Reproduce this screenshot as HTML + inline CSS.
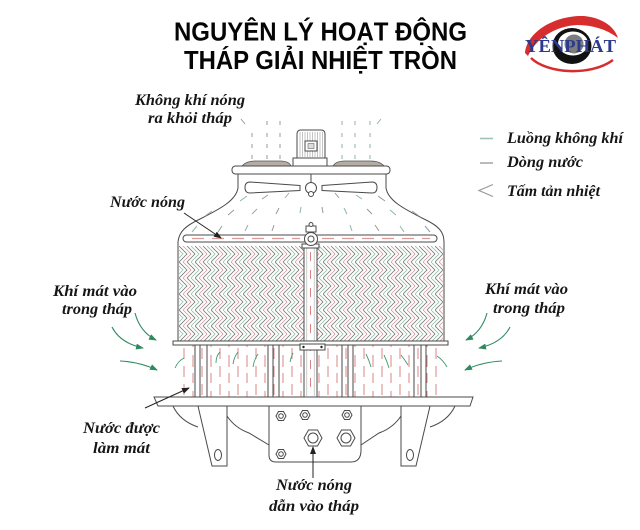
<!DOCTYPE html>
<html><head><meta charset="utf-8">
<style>
html,body{margin:0;padding:0;background:#fff;}
svg{display:block;}
.t{font-family:"Liberation Serif","DejaVu Serif",serif;font-style:italic;font-weight:bold;font-size:16px;fill:#161616;}
.h{font-family:"Liberation Sans","DejaVu Sans",sans-serif;font-weight:bold;font-size:26px;fill:#050505;}
</style></head><body>
<svg width="640" height="530" viewBox="0 0 640 530" xmlns="http://www.w3.org/2000/svg">
<defs>
 <pattern id="fillp" patternUnits="userSpaceOnUse" x="179" y="246" width="16" height="16">
  <g fill="none" stroke-width="0.85">
   <path stroke="#7a7a7a" d="M-8,0L0,8L-8,16M0,0L8,8L0,16M8,0L16,8L8,16"/>
   <path stroke="#d79c9c" d="M4,0L12,8L4,16"/>
   <path stroke="#93c4ab" d="M-4,0L4,8L-4,16M12,0L20,8L12,16"/>
  </g>
 </pattern>
 <pattern id="rd" patternUnits="userSpaceOnUse" x="180" y="345" width="18" height="36">
  <path stroke="#d98585" stroke-width="1" fill="none" d="M4,3V14M4,21V32M13,10V22M13,28V38M13,-8V2"/>
 </pattern>
 <marker id="ga" markerWidth="8" markerHeight="6" refX="7" refY="3" orient="auto" markerUnits="userSpaceOnUse"><path d="M0,0L8,3L0,6Z" fill="#2f8a5f"/></marker>
 <marker id="ba" markerWidth="8" markerHeight="6" refX="7" refY="3" orient="auto" markerUnits="userSpaceOnUse"><path d="M0,0L8,3L0,6Z" fill="#222"/></marker>
</defs>

<!-- Title -->
<text class="h" x="174" y="40.5" textLength="293" lengthAdjust="spacingAndGlyphs">NGUYÊN LÝ HOẠT ĐỘNG</text>
<text class="h" x="184" y="69" textLength="273" lengthAdjust="spacingAndGlyphs">THÁP GIẢI NHIỆT TRÒN</text>

<!-- Logo -->
<path d="M525,53 C527,31 556,15 584,16 C604,18 615,28 618,38 C606,29 592,25 577,25 C556,26 536,38 528,56 Z" fill="#d62e2e"/>
<path d="M531,58 C546,73 590,77 613,60" fill="none" stroke="#d62e2e" stroke-width="2.5"/>
<ellipse cx="572" cy="46" rx="19.5" ry="18" fill="#111"/>
<ellipse cx="573" cy="43.5" rx="15" ry="12" fill="#fff"/>
<circle cx="574" cy="44" r="9.5" fill="#7d7d7d"/>
<text x="525" y="52" font-family="Liberation Serif, serif" font-weight="bold" font-size="18" fill="#2b3a8c" textLength="91" lengthAdjust="spacingAndGlyphs">YÊNPHÁT</text>

<!-- top air dashes -->
<g fill="none" stroke-width="1">
 <path stroke="#9a9a9a" d="M241,119L245,124M267,121V125M280,121V125M252,133V137M267,133V137M280,133V137M252,144V148M267,144V148M280,144V148M252,155V159M267,155V159M280,155V159"/>
 <path stroke="#8fb5a3" d="M381,119L377,124M342,121V125M355,121V125M370,121V125M342,133V137M355,133V137M370,133V137M342,144V148M355,144V148M370,144V148M342,155V159M355,155V159M370,155V159"/>
</g>

<!-- Motor -->
<g stroke="#4a4a4a" stroke-width="1" fill="#fff">
 <path d="M297,158V134Q297,130 301,130H321Q325,130 325,134V158Z"/>
</g>
<path stroke="#9c9c9c" stroke-width="0.6" d="M300,132V157M302.5,132V157M305,132V157M307.5,132V157M310,132V157M312.5,132V157M315,132V157M317.5,132V157M320,132V157M322.5,132V157"/>
<rect x="305" y="141" width="12" height="10" fill="#fff" stroke="#4a4a4a"/>
<rect x="308" y="143.5" width="6" height="5" fill="#ddd" stroke="#666" stroke-width="0.6"/>
<rect x="293" y="158" width="34" height="8" fill="#fff" stroke="#4a4a4a"/>
<!-- dishes -->
<path d="M242,166 Q246,161 256,161 H280 Q289,161 291,166 Z" fill="#b5ada3" stroke="#555" stroke-width="0.8"/>
<path d="M333,166 Q336,161 345,161 H370 Q380,161 384,166 Z" fill="#b5ada3" stroke="#555" stroke-width="0.8"/>
<!-- cap plate -->
<rect x="232" y="166" width="158" height="8" rx="3.5" fill="#fff" stroke="#4a4a4a"/>

<!-- shroud -->
<g fill="none" stroke="#4a4a4a" stroke-width="1">
 <path d="M238,174 V188 C236,200 222,208 200,219 C185,226 179,232 178,242 V341"/>
 <path d="M386,174 V188 C388,200 402,208 424,219 C439,226 444,232 444,242 V341"/>
 <path d="M311,174 V183"/>
</g>
<!-- fan -->
<path d="M300,185.5 L250,182 Q245,182 245,187.5 Q245,193 250,193 L300,190.5 Z" fill="#fff" stroke="#4a4a4a"/>
<path d="M322,185.5 L372,182 Q377,182 377,187.5 Q377,193 372,193 L322,190.5 Z" fill="#fff" stroke="#4a4a4a"/>
<circle cx="311" cy="188" r="5.5" fill="#fff" stroke="#4a4a4a"/>
<circle cx="311" cy="194" r="2.5" fill="#fff" stroke="#4a4a4a"/>

<!-- shroud air dashes -->
<g fill="none" stroke-width="1">
 <path stroke="#8fb5a3" d="M240,201L247,196M285,198L289,193M356,195L362,199M205,216L212,211M252,214L257,209M300,213L301,207M344,208L347,214M390,210L396,215M192,232L197,226M245,231L248,225M350,225L352,231M400,226L404,232"/>
 <path stroke="#9a9a9a" d="M262,199L268,195M335,193L339,198M378,196L385,201M228,215L234,210M276,214L279,208M322,207L323,213M367,209L372,214M412,211L419,216M218,232L222,226M272,231L274,225M375,225L379,231M425,226L430,232"/>
</g>

<!-- fill -->
<rect x="179" y="246" width="264" height="95" fill="url(#fillp)"/>

<!-- lower section -->
<rect x="179" y="345" width="265" height="52" fill="url(#rd)"/>
<g stroke="#4a4a4a" stroke-width="1" fill="#fff">
 <rect x="195" y="345" width="5" height="52"/>
 <rect x="268" y="345" width="5" height="52"/>
 <rect x="348" y="345" width="5" height="52"/>
 <rect x="421" y="345" width="5" height="52"/>
 <path d="M207,345V397M279,345V397M342,345V397M414,345V397" fill="none"/>
</g>
<g fill="none" stroke="#3f9a70" stroke-width="0.9">
 <path d="M175,368 Q178,361 184,358"/>
 <path d="M216,363 Q216,356 220,352"/>
 <path d="M233,364 Q234,357 238,352"/>
 <path d="M253,367 Q254,360 258,354"/>
 <path d="M290,362 Q291,357 293,353"/>
 <path d="M366,354 Q369,360 371,367"/>
 <path d="M384,355 Q387,361 389,368"/>
 <path d="M401,355 Q405,360 408,365"/>
 <path d="M437,356 Q443,360 447,367"/>
</g>

<!-- central pipe -->
<rect x="304" y="244" width="13" height="153" fill="#fff" stroke="#4a4a4a"/>
<path d="M306.8,246V396M314.2,246V396" stroke="#aaa" stroke-width="0.6"/>
<path d="M310.5,252V395" stroke="#d98585" stroke-width="1" stroke-dasharray="9 9"/>
<rect x="302" y="244" width="17" height="4" fill="#fff" stroke="#4a4a4a"/>

<!-- distribution pipe -->
<rect x="183" y="235" width="254" height="7" rx="3.5" fill="#fff" stroke="#4a4a4a"/>
<path d="M192,238.5H300M322,238.5H430" stroke="#d99a9a" stroke-width="1.2" stroke-dasharray="12 8"/>
<circle cx="311" cy="239" r="6.5" fill="#fff" stroke="#4a4a4a"/>
<circle cx="311" cy="239" r="3" fill="#fff" stroke="#4a4a4a"/>
<rect x="306" y="226" width="10" height="6" fill="#fff" stroke="#4a4a4a"/>
<circle cx="311" cy="224.5" r="2" fill="#fff" stroke="#4a4a4a"/>

<!-- plate under fill -->
<rect x="173" y="341" width="275" height="4" fill="#fff" stroke="#4a4a4a"/>
<rect x="300" y="344" width="25" height="6" fill="#fff" stroke="#4a4a4a"/>
<circle cx="303.5" cy="347" r="1.2" fill="#222"/>
<circle cx="321.5" cy="347" r="1.2" fill="#222"/>

<!-- base -->
<g fill="none" stroke="#4a4a4a" stroke-width="1">
 <path d="M173,406 Q180,421 198,427"/>
 <path d="M227,416 Q235,428 249,433 L269,445"/>
 <path d="M455,406 Q448,421 430,427"/>
 <path d="M401,416 Q393,428 379,433 L361,445"/>
 <path d="M198,406 L212,466 H227 V406"/>
 <path d="M430,406 L416,466 H401 V406"/>
 <ellipse cx="218" cy="455" rx="3.5" ry="5.5"/>
 <ellipse cx="410" cy="455" rx="3.5" ry="5.5"/>
 <path d="M269,406 V455 Q269,462 276,462 H351 Q361,462 361,450 V406"/>
</g>
<path d="M154,397 H473 L470,406 H158 Z" fill="#fff" stroke="#4a4a4a"/>

<!-- nuts -->
<g fill="#fff" stroke="#4a4a4a" stroke-width="1">
 <polygon points="276,416 278.5,411.5 283.5,411.5 286,416 283.5,420.5 278.5,420.5"/>
 <circle cx="281" cy="416" r="2.3"/>
 <polygon points="300,415 302.5,410.5 307.5,410.5 310,415 307.5,419.5 302.5,419.5"/>
 <circle cx="305" cy="415" r="2.3"/>
 <polygon points="342,415 344.5,410.5 349.5,410.5 352,415 349.5,419.5 344.5,419.5"/>
 <circle cx="347" cy="415" r="2.3"/>
 <polygon points="276,454 278.5,449.5 283.5,449.5 286,454 283.5,458.5 278.5,458.5"/>
 <circle cx="281" cy="454" r="2.3"/>
 <polygon points="304,438 308.5,430 317.5,430 322,438 317.5,446 308.5,446"/>
 <circle cx="313" cy="438" r="5"/>
 <polygon points="337,438 341.5,430 350.5,430 355,438 350.5,446 341.5,446"/>
 <circle cx="346" cy="438" r="5"/>
</g>

<!-- arrows -->
<g fill="none" stroke="#2f8a5f" stroke-width="1.1">
 <path d="M135,313 Q140,332 156,340" marker-end="url(#ga)"/>
 <path d="M112,327 Q120,343 143,348" marker-end="url(#ga)"/>
 <path d="M120,361 Q140,362 157,370" marker-end="url(#ga)"/>
 <path d="M487,313 Q482,332 466,340" marker-end="url(#ga)"/>
 <path d="M510,327 Q502,343 479,348" marker-end="url(#ga)"/>
 <path d="M502,361 Q482,362 465,370" marker-end="url(#ga)"/>
</g>
<g fill="none" stroke="#222" stroke-width="1">
 <path d="M184,213 L221,238" marker-end="url(#ba)"/>
 <path d="M145,408 L189,388" marker-end="url(#ba)"/>
 <path d="M313,478 L313,447" marker-end="url(#ba)"/>
</g>

<!-- legend -->
<path d="M480,138.5H493" stroke="#9fc4b3" stroke-width="1.6"/>
<path d="M480,163H493" stroke="#a8a8a8" stroke-width="1.6"/>
<path d="M493,184.5 L479,190.5 L493,196.5" fill="none" stroke="#999" stroke-width="1.2"/>

<!-- labels -->
<text class="t" x="135" y="105" textLength="110" lengthAdjust="spacingAndGlyphs">Không khí nóng</text>
<text class="t" x="148" y="123" textLength="84" lengthAdjust="spacingAndGlyphs">ra khỏi tháp</text>
<text class="t" x="110" y="207" textLength="75" lengthAdjust="spacingAndGlyphs">Nước nóng</text>
<text class="t" x="53" y="296" textLength="84" lengthAdjust="spacingAndGlyphs">Khí mát vào</text>
<text class="t" x="62" y="314" textLength="70" lengthAdjust="spacingAndGlyphs">trong tháp</text>
<text class="t" x="83" y="433" textLength="77" lengthAdjust="spacingAndGlyphs">Nước được</text>
<text class="t" x="93" y="453" textLength="57" lengthAdjust="spacingAndGlyphs">làm mát</text>
<text class="t" x="507" y="143" textLength="116" lengthAdjust="spacingAndGlyphs">Luồng không khí</text>
<text class="t" x="507" y="167" textLength="76" lengthAdjust="spacingAndGlyphs">Dòng nước</text>
<text class="t" x="507" y="196" textLength="93" lengthAdjust="spacingAndGlyphs">Tấm tản nhiệt</text>
<text class="t" x="485" y="294" textLength="83" lengthAdjust="spacingAndGlyphs">Khí mát vào</text>
<text class="t" x="493" y="313" textLength="72" lengthAdjust="spacingAndGlyphs">trong tháp</text>
<text class="t" x="276" y="490" textLength="76" lengthAdjust="spacingAndGlyphs">Nước nóng</text>
<text class="t" x="269" y="511" textLength="90" lengthAdjust="spacingAndGlyphs">dẫn vào tháp</text>
</svg>
</body></html>
